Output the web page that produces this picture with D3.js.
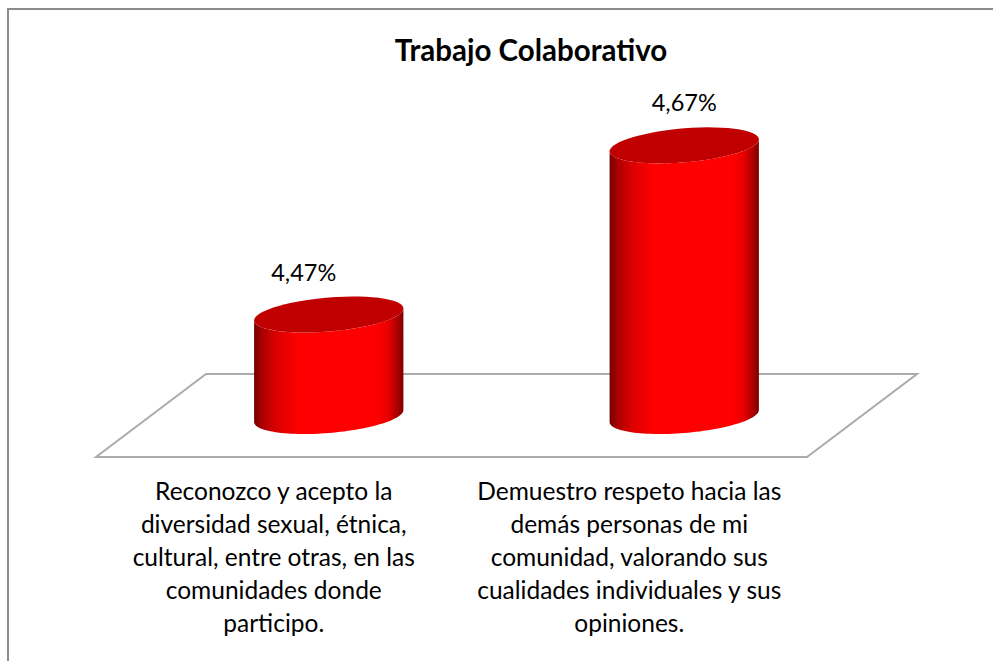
<!DOCTYPE html>
<html>
<head>
<meta charset="utf-8">
<script src="https://cdnjs.cloudflare.com/ajax/libs/d3/7.8.5/d3.min.js"></script>
<style>
html,body{margin:0;padding:0;background:#fff;}
svg{display:block;}
text{font-family:Lato,"Open Sans",sans-serif;fill:#000;}
</style>
</head>
<body>
<div id="chart"></div>
<script>
const chartTitle = "Trabajo Colaborativo";
const categories = [
  "Reconozco y acepto la diversidad sexual, étnica, cultural, entre otras, en las comunidades donde participo.",
  "Demuestro respeto hacia las demás personas de mi comunidad, valorando sus cualidades individuales y sus opiniones."
];
const categoryLines = [
  ["Reconozco y acepto la","diversidad sexual, étnica,","cultural, entre otras, en las","comunidades donde","participo."],
  ["Demuestro respeto hacia las","demás personas de mi","comunidad, valorando sus","cualidades individuales y sus","opiniones."]
];
const values = [4.47, 4.67];
const labelShiftX = [-25, 0];
const yDomain = [4.35, 4.70];

const W = 993, H = 661;
const svg = d3.select("#chart").append("svg").attr("width", W).attr("height", H);

const x = d3.scaleBand().domain(categories).range([151, 862]).paddingInner(0.58).paddingOuter(0.29);
const y = d3.scaleLinear().domain(yDomain).range([416, 120]);

const depthX = 55, depthY = 41.5, floorY = y(yDomain[0]) - 0.5;
const skew = 6, ryBase = 17;

const defs = svg.append("defs");
const grad = defs.append("linearGradient").attr("id", "cyl");
[[0,"#700000"],[0.05,"#a80000"],[0.14,"#d80000"],[0.3,"#ff0000"],[0.82,"#ff0000"],[0.9,"#e60000"],[0.97,"#a00000"],[1,"#800000"]]
  .forEach(([o,c]) => grad.append("stop").attr("offset", o).attr("stop-color", c));
const soft = defs.append("filter").attr("id","soft").attr("x","-5%").attr("y","-5%").attr("width","110%").attr("height","110%");
soft.append("feGaussianBlur").attr("stdDeviation", 0.6);

// frame
svg.append("path").attr("d", `M8,${H}V9H${W}`).attr("fill","none").attr("stroke","#8c8c8c").attr("stroke-width",2);

// floor
const [x0, x1] = x.range();
svg.append("path")
  .attr("d", d3.line()([[x0-depthX, floorY+depthY],[x0+depthX, floorY-depthY],[x1+depthX, floorY-depthY],[x1-depthX, floorY+depthY]]) + "Z")
  .attr("fill","#fff").attr("stroke","#ababab").attr("stroke-width",2).attr("filter","url(#soft)");

// cylinders
const bw = x.bandwidth(), rx = bw/2;
const bars = svg.append("g").attr("filter","url(#soft)");
function ellipsePts(cx, cy, from, to){
  return d3.range(0, 61).map(i => {
    const t = from + (to-from)*i/60;
    return [cx + rx*Math.cos(t), cy + ryBase*Math.sin(t) - skew*Math.cos(t)];
  });
}
const line = d3.line();
bars.selectAll("path.body").data(categories).join("path").attr("class","body")
  .attr("d", (c,i) => {
    const cx = x(c)+rx, top = y(values[i]), base = y(yDomain[0]);
    return line([...ellipsePts(cx, top, Math.PI, 0), ...ellipsePts(cx, base, 0, Math.PI)]) + "Z";
  })
  .attr("fill","url(#cyl)");
bars.selectAll("path.top").data(categories).join("path").attr("class","top")
  .attr("d", (c,i) => line(ellipsePts(x(c)+rx, y(values[i]), 0, 2*Math.PI)) + "Z")
  .attr("fill","#c00000");

// data labels
const locale = d3.formatLocale({decimal:",",thousands:".",grouping:[3],currency:["",""]});
const fmt = locale.format(".2f");
svg.selectAll("text.val").data(categories).join("text").attr("class","val")
  .attr("x", (c,i) => x(c)+rx+labelShiftX[i])
  .attr("y", (c,i) => y(values[i]) - 34)
  .attr("text-anchor","middle").attr("font-size",23.5)
  .text((c,i) => fmt(values[i]) + "%");

// category axis
const axis = svg.append("g").attr("transform",`translate(${-depthX},${floorY+depthY})`)
  .call(d3.axisBottom(x).tickSize(0).tickPadding(0));
axis.select(".domain").remove();
axis.selectAll(".tick text").each(function(c){
  const t = d3.select(this).text(null).attr("y",0).attr("dy",0)
    .attr("text-anchor","middle").style("font-family",'Lato,"Open Sans",sans-serif').style("font-size","24.5px");
  categoryLines[categories.indexOf(c)].forEach((l,i) => {
    t.append("tspan").attr("x",0).attr("y",43+i*33).text(l);
  });
});

// title
svg.append("text").attr("x",531).attr("y",61).attr("text-anchor","middle")
  .attr("font-size",29.5).attr("font-weight",700).text(chartTitle);
</script>
</body>
</html>
